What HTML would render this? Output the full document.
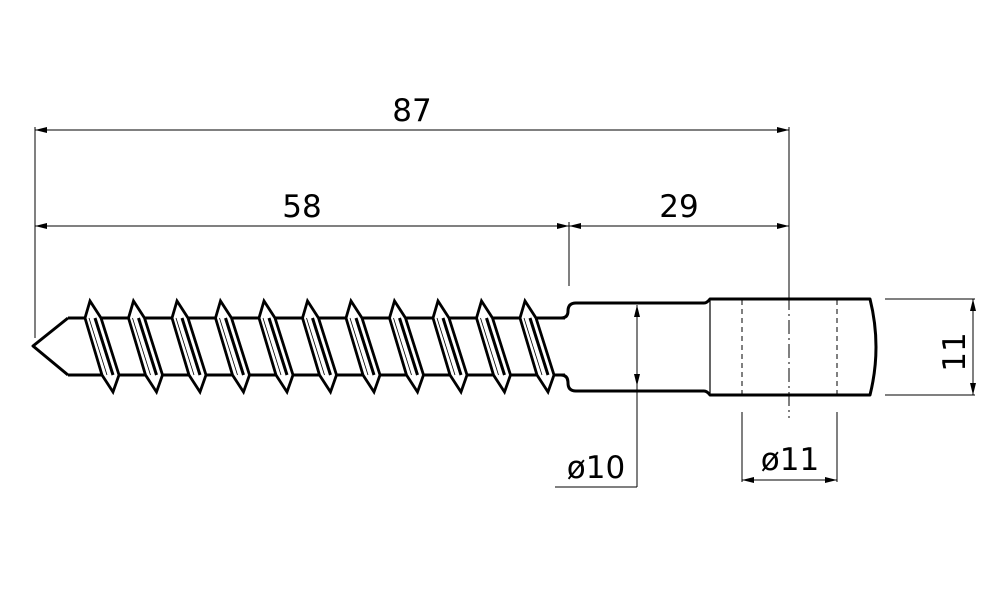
<!DOCTYPE html>
<html><head><style>html,body{margin:0;background:#fff}svg{display:block}</style></head><body>
<svg width="1000" height="600" viewBox="0 0 1000 600" xmlns="http://www.w3.org/2000/svg" font-family="'DejaVu Sans','Liberation Sans',sans-serif">
<g stroke="#000" stroke-width="1" fill="none">
<line x1="35" y1="127" x2="35" y2="338"/>
<line x1="569" y1="222" x2="569" y2="286"/>
<line x1="789" y1="127" x2="789" y2="296"/>
<line x1="789" y1="296" x2="789" y2="418" stroke-dasharray="14,4,2,4"/>
<line x1="35" y1="130" x2="789" y2="130"/>
<line x1="35" y1="226" x2="789" y2="226"/>
<line x1="885" y1="299" x2="975" y2="299"/>
<line x1="885" y1="395" x2="975" y2="395"/>
<line x1="973" y1="299" x2="973" y2="395"/>
<line x1="637" y1="305" x2="637" y2="487"/>
<line x1="555" y1="487" x2="637" y2="487"/>
<line x1="742" y1="412" x2="742" y2="482"/>
<line x1="837" y1="412" x2="837" y2="482"/>
<line x1="742" y1="480" x2="837" y2="480"/>
<line x1="742" y1="300" x2="742" y2="394" stroke-dasharray="5,4"/>
<line x1="837" y1="300" x2="837" y2="394" stroke-dasharray="5,4"/>
</g>
<g fill="#000">
<polygon points="35,130 47,127 47,133"/><polygon points="789,130 777,127 777,133"/>
<polygon points="35,226 47,223 47,229"/><polygon points="569,226 557,223 557,229"/>
<polygon points="569,226 581,223 581,229"/><polygon points="789,226 777,223 777,229"/>
<polygon points="973,299 970,311 976,311"/><polygon points="973,395 970,383 976,383"/>
<polygon points="637,305 634,317 640,317"/><polygon points="637,386 634,374 640,374"/>
<polygon points="742,480 754,477 754,483"/><polygon points="837,480 825,477 825,483"/>
</g>
<g stroke="#000" stroke-width="3" fill="none" stroke-linejoin="round">
<path d="M68,318 L33,346 L68,375"/>
<line x1="68" y1="318" x2="565" y2="318"/>
<line x1="68" y1="375" x2="565" y2="375"/>
<path d="M561,318 Q568,318 568,311 Q568,303 576,303 L704,303 Q707,303 710,299 L870,299 Q882,347 870,395 L710,395 Q707,391 704,391 L576,391 Q568,391 568,383 Q568,375 561,375"/>
</g>
<line x1="710" y1="300" x2="710" y2="394" stroke="#000" stroke-width="1.2"/>
<g stroke="#000" fill="#fff" stroke-linejoin="miter">
<g id="t">
<polygon points="85,318 90,301 101,318 119,375 113,392 102,375" stroke-width="2.8"/>
<line x1="95" y1="318" x2="113" y2="375" stroke-width="3"/>
<line x1="89" y1="318" x2="107" y2="375" stroke-width="0.8"/>
</g>
<use href="#t" x="43.5"/><use href="#t" x="87"/><use href="#t" x="130.5"/><use href="#t" x="174"/>
<use href="#t" x="217.5"/><use href="#t" x="261"/><use href="#t" x="304.5"/><use href="#t" x="348"/>
<use href="#t" x="391.5"/><use href="#t" x="435"/>
</g>
<g fill="#000" font-size="31">
<text x="412" y="121" text-anchor="middle">87</text>
<text x="302" y="217" text-anchor="middle">58</text>
<text x="679" y="217" text-anchor="middle">29</text>
<text x="596" y="478" text-anchor="middle">ø10</text>
<text x="790" y="470" text-anchor="middle">ø11</text>
<text transform="translate(965,352) rotate(-90)" text-anchor="middle">11</text>
</g>
</svg>
</body></html>
